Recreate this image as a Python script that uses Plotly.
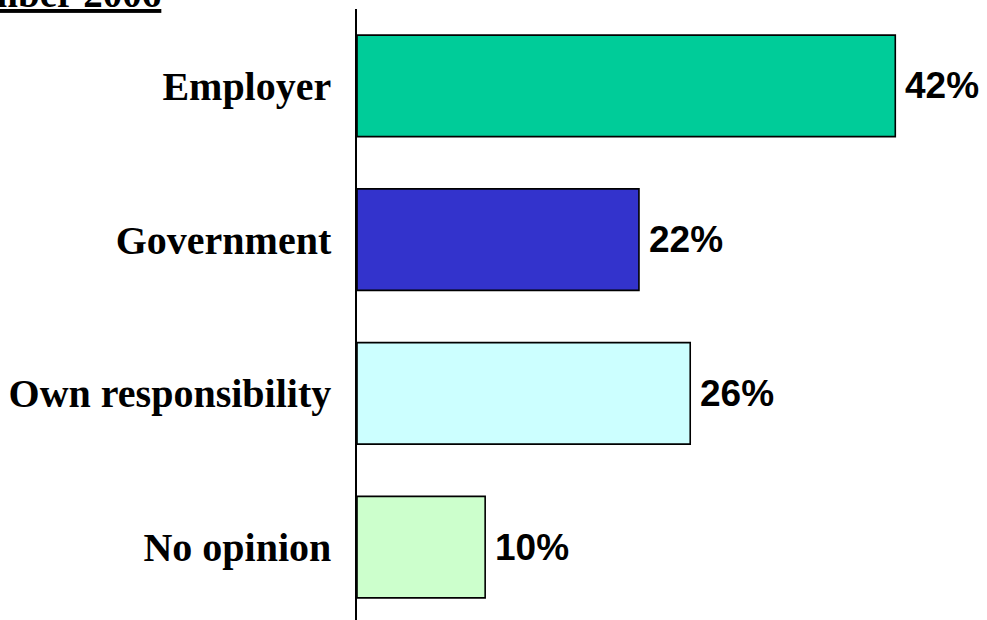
import plotly.graph_objects as go

# Survey answers, top to bottom
categories = ["Employer", "Government", "Own responsibility", "No opinion"]
shares = [42, 22, 26, 10]
bar_colors = ["#00CC99", "#3333CC", "#CCFFFF", "#CCFFCC"]
title_text = "November 2006"

W, H = 987, 625
ML, MR, MT, MB = 357, 2, 9, 1
x_max = 49

fig = go.Figure(
    go.Bar(
        y=categories,
        x=shares,
        orientation="h",
        marker=dict(color=bar_colors, line=dict(color="black", width=1.6)),
        hoverinfo="skip",
    )
)

# value labels just to the right of each bar
for cat, val in zip(categories, shares):
    fig.add_annotation(
        x=val, y=cat, xref="x", yref="y",
        text=f"<b>{val}%</b>",
        showarrow=False, xanchor="left", yanchor="middle", xshift=8,
        font=dict(family="Liberation Sans, Arial, sans-serif", size=37, color="black"),
    )

plot_w = W - ML - MR
fig.add_annotation(
    xref="paper", yref="paper", x=(163 - ML) / plot_w, y=1,
    xanchor="right", yanchor="middle", yshift=16,
    text=f"<b><u>{title_text}</u></b>",
    showarrow=False,
    font=dict(family="Liberation Serif, Times New Roman, serif", size=39, color="black"),
)

fig.update_layout(
    width=W, height=H,
    margin=dict(l=ML, r=MR, t=MT, b=MB),
    paper_bgcolor="white", plot_bgcolor="white",
    bargap=0.34,
    showlegend=False,
    xaxis=dict(visible=False, range=[0, x_max]),
    yaxis=dict(
        autorange="reversed",
        showline=True, linecolor="black", linewidth=1.5,
        showgrid=False, zeroline=False, ticks="",
        ticklabelstandoff=16,
        tickfont=dict(family="Liberation Serif, Times New Roman, serif", size=40,
                      color="black", weight="bold"),
    ),
)

fig.write_html("out.html")
